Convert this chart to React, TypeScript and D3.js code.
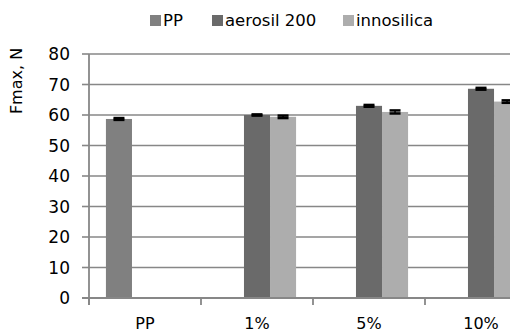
import React from "react";
import * as d3 from "d3";

const categories = ["PP", "1%", "5%", "10%"];
const seriesNames = ["PP", "aerosil 200", "innosilica"];
const ppValues: (number | null)[] = [58.7, null, null, null];
const ppErrors: (number | null)[] = [0.3, null, null, null];
const aerosilValues: (number | null)[] = [null, 60.0, 63.0, 68.6];
const aerosilErrors: (number | null)[] = [null, 0.2, 0.3, 0.3];
const innosilicaValues: (number | null)[] = [null, 59.4, 61.0, 64.4];
const innosilicaErrors: (number | null)[] = [null, 0.4, 0.5, 0.4];
const yTicks = [0, 10, 20, 30, 40, 50, 60, 70, 80];
const colors = ["#808080", "#6a6a6a", "#adadad"];

const W = 510;
const H = 333;
const FONT = "'DejaVu Sans', sans-serif";

export default function App() {
  const x0 = 89;
  const x = d3.scaleBand<string>().domain(categories).range([x0, x0 + 112 * 4]).padding(0);
  const xs = d3
    .scaleBand<string>()
    .domain(seriesNames)
    .range([0, x.bandwidth()])
    .paddingInner(0)
    .paddingOuter(0.65);
  const y = d3.scaleLinear().domain([0, 80]).range([298, 54]);

  const allValues = [ppValues, aerosilValues, innosilicaValues];
  const allErrors = [ppErrors, aerosilErrors, innosilicaErrors];
  const grid = "#878787";

  const legendX = [150, 212, 343];

  return (
    <svg
      width={W}
      height={H}
      style={{ position: "absolute", left: 0, top: 0, background: "#fff" }}
      fontFamily={FONT}
    >
      <rect width={W} height={H} fill="#fff" />
      {/* gridlines */}
      {yTicks.slice(1).map((t) => (
        <line key={t} x1={x0} x2={x0 + 112 * 4} y1={y(t)} y2={y(t)} stroke={grid} strokeWidth={1.6} />
      ))}
      {/* y ticks */}
      {yTicks.map((t) => (
        <g key={"yt" + t}>
          <line x1={x0 - 7} x2={x0} y1={y(t)} y2={y(t)} stroke={grid} strokeWidth={1.6} />
          <text x={70} y={y(t)} dy="0.36em" textAnchor="end" fontSize={17} fill="#000">
            {t}
          </text>
        </g>
      ))}
      {/* bars */}
      {allValues.map((vals, si) =>
        vals.map((v, ci) =>
          v == null ? null : (
            <rect
              key={`b${si}-${ci}`}
              x={(x(categories[ci]) as number) + (xs(seriesNames[si]) as number)}
              width={xs.bandwidth()}
              y={y(v)}
              height={y(0) - y(v)}
              fill={colors[si]}
            />
          )
        )
      )}
      {/* error bars */}
      {allValues.map((vals, si) =>
        vals.map((v, ci) => {
          const e = allErrors[si][ci];
          if (v == null || e == null) return null;
          const cx = (x(categories[ci]) as number) + (xs(seriesNames[si]) as number) + xs.bandwidth() / 2;
          const hw = 5.5;
          return (
            <g key={`e${si}-${ci}`} stroke="#000">
              <line x1={cx} x2={cx} y1={y(v + e)} y2={y(v - e)} strokeWidth={1.5} />
              <line x1={cx - hw} x2={cx + hw} y1={y(v + e)} y2={y(v + e)} strokeWidth={2.5} />
              <line x1={cx - hw} x2={cx + hw} y1={y(v - e)} y2={y(v - e)} strokeWidth={2.5} />
            </g>
          );
        })
      )}
      {/* axes */}
      <line x1={x0} x2={x0} y1={y(80)} y2={y(0) + 7} stroke={grid} strokeWidth={1.8} />
      <line x1={x0 - 7} x2={x0 + 112 * 4} y1={y(0)} y2={y(0)} stroke={grid} strokeWidth={1.8} />
      {categories.map((c) => (
        <line
          key={"xt" + c}
          x1={x(c) as number}
          x2={x(c) as number}
          y1={y(0)}
          y2={y(0) + 7}
          stroke={grid}
          strokeWidth={1.8}
        />
      ))}
      {categories.map((c) => (
        <text
          key={"xl" + c}
          x={(x(c) as number) + x.bandwidth() / 2}
          y={329}
          textAnchor="middle"
          fontSize={16}
          fill="#000"
        >
          {c}
        </text>
      ))}
      {/* y title */}
      <text transform="translate(22,81) rotate(-90)" textAnchor="middle" fontSize={16} fill="#000">
        Fmax, N
      </text>
      {/* legend */}
      {seriesNames.map((s, i) => (
        <g key={"lg" + s}>
          <rect x={legendX[i]} y={15} width={11} height={11} fill={colors[i]} />
          <text x={legendX[i] + 13} y={26} fontSize={16.5} fill="#000">
            {s}
          </text>
        </g>
      ))}
    </svg>
  );
}
